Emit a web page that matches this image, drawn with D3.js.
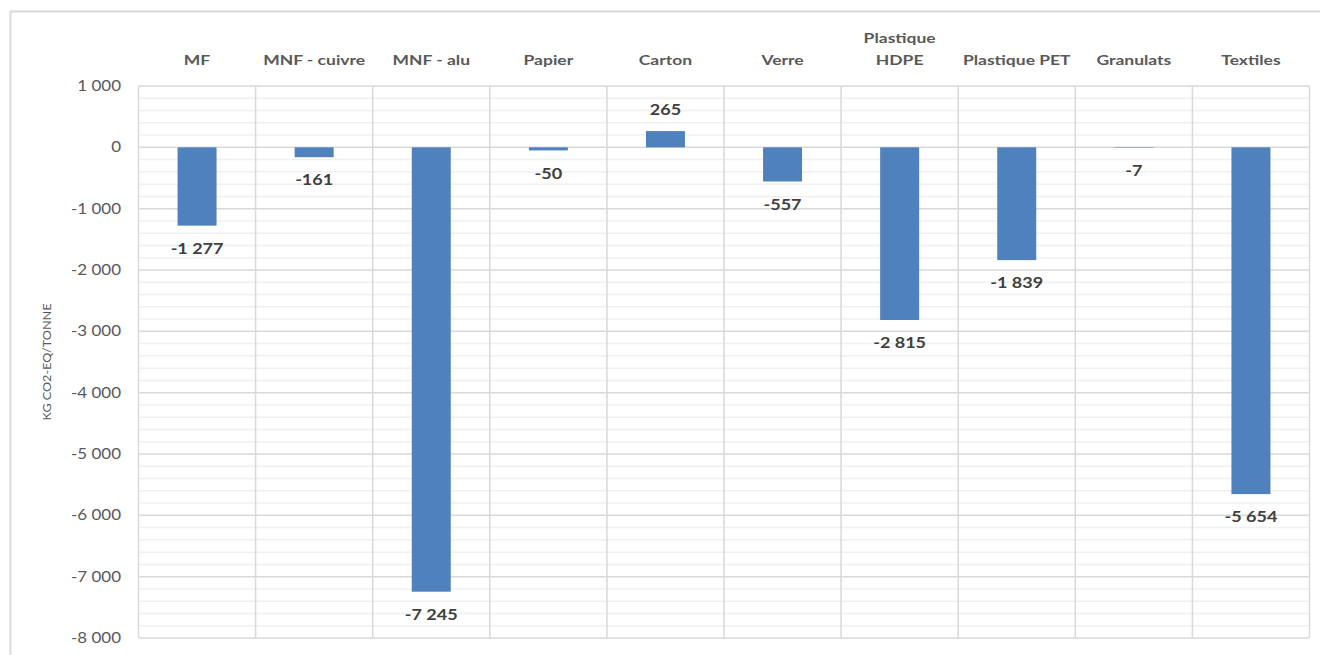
<!DOCTYPE html>
<html><head><meta charset="utf-8">
<script src="https://cdn.jsdelivr.net/npm/d3@7"></script>
<style>body{margin:0;background:#fff}svg{display:block}</style>
</head><body>
<svg id="c" width="1320" height="655"></svg>
<script>
const categories = ["MF","MNF - cuivre","MNF - alu","Papier","Carton","Verre","Plastique HDPE","Plastique PET","Granulats","Textiles"];
const values = [-1277,-161,-7245,-50,265,-557,-2815,-1839,-7,-5654];
const valueLabels = ["-1 277","-161","-7 245","-50","265","-557","-2 815","-1 839","-7","-5 654"];
const yTicks = [1000,0,-1000,-2000,-3000,-4000,-5000,-6000,-7000,-8000];
const yTickLabels = ["1 000","0","-1 000","-2 000","-3 000","-4 000","-5 000","-6 000","-7 000","-8 000"];
const yTitle = "KG CO2-EQ/TONNE";

const svg = d3.select("#c");
const m = {left:138.5, right:1309.5, top:86, bottom:638};
const font = "Lato, 'Open Sans', sans-serif";

svg.append("rect").attr("x",10.5).attr("y",11.5).attr("width",1330).attr("height",700)
  .attr("fill","#fff").attr("stroke","#d9d9d9").attr("stroke-width",2);

const x = d3.scaleBand().domain(categories).range([m.left,m.right]).paddingInner(0).paddingOuter(0);
const y = d3.scaleLinear().domain([1000,-8000]).range([m.top,m.bottom]);

// minor gridlines
const minor = d3.range(-8000,1001,200).filter(v=>v%1000!==0);
svg.append("g").selectAll("line").data(minor).join("line")
  .attr("x1",m.left).attr("x2",m.right).attr("y1",d=>y(d)).attr("y2",d=>y(d))
  .attr("stroke","#f0f0f0").attr("stroke-width",1.5);
// major gridlines
svg.append("g").selectAll("line").data(yTicks).join("line")
  .attr("x1",m.left).attr("x2",m.right).attr("y1",d=>y(d)).attr("y2",d=>y(d))
  .attr("stroke","#d9d9d9").attr("stroke-width",1.5);
// vertical separators
const seps = categories.map(c=>x(c)).concat([m.right]);
svg.append("g").selectAll("line").data(seps).join("line")
  .attr("x1",d=>d).attr("x2",d=>d).attr("y1",m.top).attr("y2",m.bottom)
  .attr("stroke","#d9d9d9").attr("stroke-width",1.5);

// y tick labels
svg.append("g").selectAll("text").data(yTicks).join("text")
  .attr("transform",d=>`translate(121,${y(d)}) scale(1.17,1)`)
  .attr("dy","0.35em").attr("text-anchor","end")
  .attr("font-family",font).attr("font-size",14.5).attr("fill","#595959")
  .text((d,i)=>yTickLabels[i]);

// y title
svg.append("text").attr("transform",`translate(51,${(m.top+m.bottom)/2}) rotate(-90) scale(1.05,1)`)
  .attr("text-anchor","middle").attr("font-family",font).attr("font-size",12).attr("fill","#595959")
  .text(yTitle);

// bars
const bw = 39;
svg.append("g").selectAll("rect").data(values).join("rect")
  .attr("x",(d,i)=>x(categories[i])+x.bandwidth()/2-bw/2).attr("width",bw)
  .attr("y",d=>y(Math.max(0,d))).attr("height",d=>Math.abs(y(d)-y(0)))
  .attr("fill","#4f81bd");

// value labels
svg.append("g").selectAll("text").data(values).join("text")
  .attr("transform",(d,i)=>`translate(${x(categories[i])+x.bandwidth()/2},${d>=0 ? y(d)-21 : y(d)+23}) scale(1.2,1)`)
  .attr("dy","0.35em").attr("text-anchor","middle")
  .attr("font-family",font).attr("font-size",15).attr("font-weight","bold").attr("fill","#404040")
  .text((d,i)=>valueLabels[i]);

// category labels
const cat = svg.append("g").selectAll("text").data(categories).join("text")
  .attr("transform",d=>`translate(${x(d)+x.bandwidth()/2},60) scale(1.25,1)`)
  .attr("dy","0.35em").attr("text-anchor","middle")
  .attr("font-family",font).attr("font-size",14).attr("font-weight","bold").attr("fill","#595959");
cat.each(function(d){
  const t = d3.select(this);
  if(d==="Plastique HDPE"){
    t.append("tspan").attr("x",0).attr("dy","-1.2em").text("Plastique");
    t.append("tspan").attr("x",0).attr("dy","1.55em").text("HDPE");
  } else t.text(d);
});
</script>
</body></html>
